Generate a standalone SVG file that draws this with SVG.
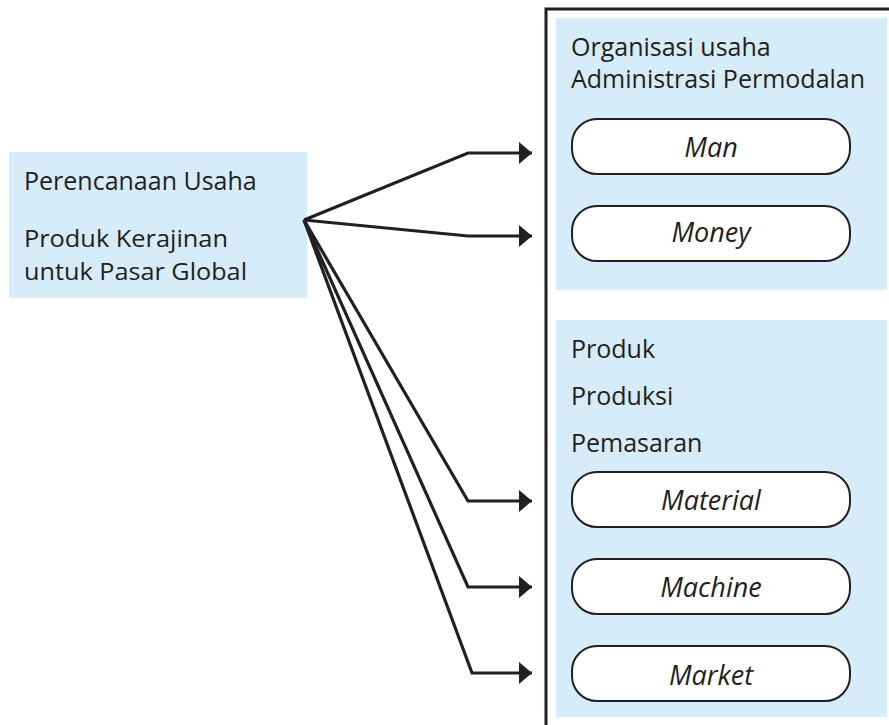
<svg xmlns="http://www.w3.org/2000/svg" width="889" height="725" viewBox="0 0 889 725">
<style>
.panel{fill:#d6ecf9;}
.pill{fill:#ffffff;stroke:#231f20;stroke-width:2;}
.t{font-family:"Open Sans","Liberation Sans",sans-serif;font-size:25px;fill:#231f20;}
.s{font-size:24px;}
.i{font-family:"Open Sans","Liberation Sans",sans-serif;font-size:27px;font-style:italic;fill:#231f20;text-anchor:middle;}
.c{fill:none;stroke:#231f20;stroke-width:3.2;stroke-linejoin:miter;}
</style>
<defs>
<marker id="ah" markerUnits="userSpaceOnUse" markerWidth="14" markerHeight="22" refX="13" refY="11" orient="auto">
<path d="M0,0 L13,11 L0,22 Z" fill="#231f20"/>
</marker>
</defs>
<rect width="889" height="725" fill="#ffffff"/>
<g id="frame">
<path d="M546,725 L546,9 L889,9" fill="none" stroke="#231f20" stroke-width="3"/>
</g>
<g id="source">
<rect class="panel" x="9" y="152" width="298" height="146"/>
<text class="t" x="24" y="190">Perencanaan Usaha</text>
<text class="t s" x="24" y="247" textLength="204" lengthAdjust="spacingAndGlyphs">Produk Kerajinan</text>
<text class="t s" x="24" y="280" textLength="223" lengthAdjust="spacingAndGlyphs">untuk Pasar Global</text>
</g>
<g id="panel-top">
<rect class="panel" x="556" y="18" width="331" height="272"/>
<text class="t" x="571" y="56">Organisasi usaha</text>
<text class="t" x="571" y="88">Administrasi Permodalan</text>
</g>
<g id="panel-bottom">
<rect class="panel" x="556" y="320" width="331" height="397"/>
<text class="t" x="571" y="358">Produk</text>
<text class="t" x="571" y="405">Produksi</text>
<text class="t" x="571" y="452">Pemasaran</text>
</g>
<g id="man"><rect class="pill" x="572" y="119" width="278" height="55" rx="25"/><text class="i" x="711" y="157">Man</text></g>
<g id="money"><rect class="pill" x="572" y="206" width="278" height="55" rx="25"/><text class="i" x="711" y="242">Money</text></g>
<g id="material"><rect class="pill" x="572" y="472" width="278" height="55" rx="25"/><text class="i" x="711" y="510">Material</text></g>
<g id="machine"><rect class="pill" x="572" y="559" width="278" height="55" rx="25"/><text class="i" x="711" y="597">Machine</text></g>
<g id="market"><rect class="pill" x="572" y="646" width="278" height="55" rx="25"/><text class="i" x="711" y="685">Market</text></g>
<g id="connectors">
<polyline class="c" points="304,220 468,153 532,153" marker-end="url(#ah)"/>
<polyline class="c" points="304,220 468,236 532,236" marker-end="url(#ah)"/>
<polyline class="c" points="304,220 468,501 532,501" marker-end="url(#ah)"/>
<polyline class="c" points="304,220 468,587 532,587" marker-end="url(#ah)"/>
<polyline class="c" points="304,220 472,673 532,673" marker-end="url(#ah)"/>
</g>
</svg>
